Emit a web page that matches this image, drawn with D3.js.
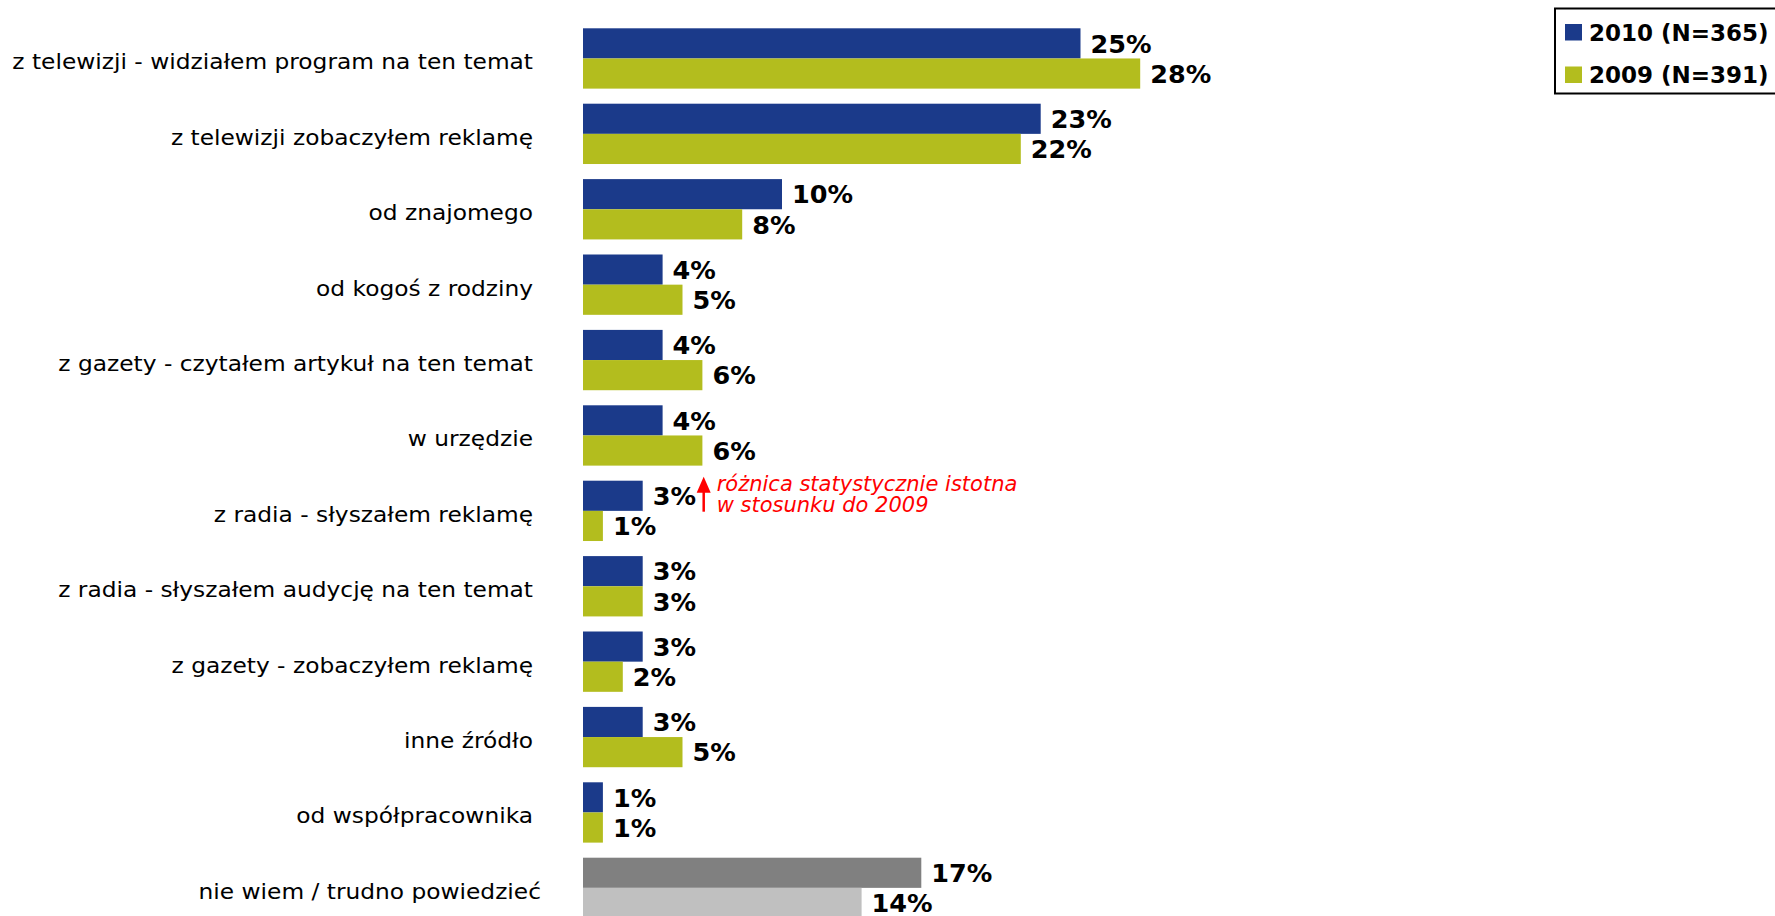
<!DOCTYPE html>
<html>
<head>
<meta charset="utf-8">
<script src="https://cdn.jsdelivr.net/npm/d3@7"></script>
<style>
  html, body { margin: 0; padding: 0; background: #fff; }
  svg { display: block; }
</style>
</head>
<body>
<svg id="chart" width="1775" height="916"></svg>
<script>
// Źródła informacji – porównanie 2010 vs 2009
const categories = [
  "z telewizji - widziałem program na ten temat",
  "z telewizji zobaczyłem reklamę",
  "od znajomego",
  "od kogoś z rodziny",
  "z gazety - czytałem artykuł na ten temat",
  "w urzędzie",
  "z radia - słyszałem reklamę",
  "z radia - słyszałem audycję na ten temat",
  "z gazety - zobaczyłem reklamę",
  "inne źródło",
  "od współpracownika",
  "nie wiem / trudno powiedzieć"
];
const values2010 = [25, 23, 10, 4, 4, 4, 3, 3, 3, 3, 1, 17];
const values2009 = [28, 22, 8, 5, 6, 6, 1, 3, 2, 5, 1, 14];
const seriesNames = ["2010 (N=365)", "2009 (N=391)"];
const seriesKeys = ["y2010", "y2009"];
const seriesColors = ["#1b3a8a", "#b3bd1e"];
// "nie wiem" row is drawn in greys
const neutralCategory = "nie wiem / trudno powiedzieć";
const neutralColors = ["#808080", "#c0c0c0"];
// significance note attached to one row
const noteCategory = "z radia - słyszałem reklamę";
const noteLines = ["różnica statystycznie istotna", "w stosunku do 2009"];

const rows = categories.map((c, i) => ({ cat: c, y2010: values2010[i], y2009: values2009[i] }));

const svg = d3.select("#chart");

const x = d3.scaleLinear().domain([0, 30]).range([583, 1180]);
const y = d3.scaleBand().domain(categories).range([20.76, 925.56]).paddingInner(0.2).paddingOuter(0.1);
const ySub = d3.scaleBand().domain(seriesKeys).range([0, y.bandwidth()]);

const groups = svg.append("g").selectAll("g.row")
  .data(rows).join("g")
  .attr("class", "row")
  .attr("transform", d => `translate(0,${y(d.cat)})`);

// bars
groups.selectAll("rect")
  .data(d => seriesKeys.map((k, j) => ({ key: k, j, value: d[k], cat: d.cat })))
  .join("rect")
  .attr("x", x(0))
  .attr("y", d => ySub(d.key))
  .attr("width", d => x(d.value) - x(0))
  .attr("height", ySub.bandwidth())
  .attr("fill", d => d.cat === neutralCategory ? neutralColors[d.j] : seriesColors[d.j]);

// value labels
groups.selectAll("text.val")
  .data(d => seriesKeys.map(k => ({ key: k, value: d[k] })))
  .join("text")
  .attr("class", "val")
  .attr("x", d => x(d.value) + 10)
  .attr("y", d => ySub(d.key) + ySub.bandwidth() / 2)
  .attr("dy", "0.36em")
  .attr("font-family", "'DejaVu Sans', Verdana, sans-serif")
  .attr("font-weight", "bold")
  .attr("font-size", 25.5)
  .attr("fill", "#000")
  .text(d => d.value + "%");

// category labels (slightly widened)
groups.append("g")
  .attr("transform", d => `translate(${d.cat === neutralCategory ? 541 : 533},${y.bandwidth() / 2 + 11}) scale(1.11,1)`)
  .append("text")
  .attr("text-anchor", "end")
  .attr("font-family", "'DejaVu Sans', Verdana, sans-serif")
  .attr("font-size", 21)
  .attr("fill", "#000")
  .text(d => d.cat);

// significance note with arrow
const noteRow = rows.find(r => r.cat === noteCategory);
const noteTop = y(noteCategory);
const arrowX = x(noteRow.y2010) + 61;
const note = svg.append("g").attr("fill", "#ff0000");
note.append("line")
  .attr("x1", arrowX).attr("x2", arrowX)
  .attr("y1", noteTop + 31).attr("y2", noteTop + 8)
  .attr("stroke", "#ff0000").attr("stroke-width", 2.5);
note.append("path")
  .attr("d", `M${arrowX},${noteTop - 4} L${arrowX + 7},${noteTop + 12} L${arrowX - 7},${noteTop + 12} Z`);
note.selectAll("text")
  .data(noteLines).join("text")
  .attr("x", arrowX + 13)
  .attr("y", (d, i) => noteTop + 10 + i * 21)
  .attr("font-family", "'DejaVu Sans', Verdana, sans-serif")
  .attr("font-style", "italic")
  .attr("font-size", 21)
  .text(d => d);

// legend
const legend = svg.append("g");
legend.append("rect")
  .attr("x", 1555).attr("y", 8.5)
  .attr("width", 240).attr("height", 85)
  .attr("fill", "#fff").attr("stroke", "#000").attr("stroke-width", 2);
const legendItems = legend.selectAll("g.item")
  .data(seriesNames).join("g")
  .attr("class", "item")
  .attr("transform", (d, i) => `translate(1565,${24 + i * 42.5})`);
legendItems.append("rect")
  .attr("width", 17).attr("height", 16.5)
  .attr("fill", (d, i) => seriesColors[i]);
legendItems.append("text")
  .attr("x", 24).attr("y", 16.5)
  .attr("font-family", "'DejaVu Sans', Verdana, sans-serif")
  .attr("font-weight", "bold")
  .attr("font-size", 23)
  .attr("fill", "#000")
  .text(d => d);
</script>
</body>
</html>
